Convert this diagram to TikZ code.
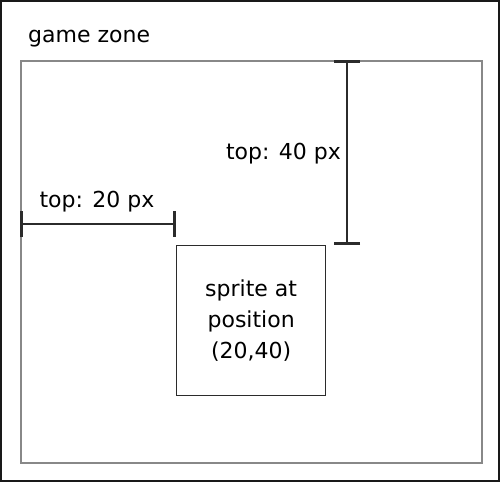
\documentclass[tikz,border=0pt]{standalone}
\usepackage{fontspec}
\setmainfont{DejaVu Sans}
\usetikzlibrary{arrows.meta,positioning}
\definecolor{zonegray}{HTML}{888888}
\definecolor{rulerdark}{HTML}{2B2B2B}

\begin{document}
\begin{tikzpicture}[x=1pt, y=-1pt,
        zone/.style={draw=zonegray, line width=1.6pt, minimum width=461pt, minimum height=402pt,
                     anchor=north west, inner sep=0pt},
        sprite/.style={draw=rulerdark, line width=1.3pt, minimum width=149pt, minimum height=150pt,
                       anchor=north west, align=center, inner sep=0pt,
                       font=\fontsize{22}{31}\selectfont},
        lbl/.style={inner sep=0pt, font=\fontsize{22}{26}\selectfont},
        ruler/.style={{Bar[width=26pt, line width=3pt]}-{Bar[width=26pt, line width=3pt]},
                      rulerdark, line width=1.6pt}]
        \useasboundingbox (0,0) rectangle (500,482);
        \draw[line width=2pt, black!90] (1,1) rectangle (499,481);
        \node[zone] (zone) at (20,60) {};
        \node[lbl, anchor=base west] (zonelbl) at (28,42) {game zone};
        \node[sprite] (s) at (176,245) {sprite at\\position\\(20,40)};
        % rulers
        \coordinate (hl) at (zone.west |- 0,224);
        \coordinate (hr) at (s.north west |- 0,224);
        \coordinate (vt) at (347,60);
        \coordinate (vb) at (347,245);
        \draw[ruler] (hl) -- (hr);
        \draw[ruler] (vt) -- (vb);
        \node[lbl, anchor=base] (hlbl) at (97,207) {top: 20 px};
        \node[lbl, anchor=base east] (vlbl) at (341,159) {top: 40 px};
      \end{tikzpicture}
\end{document}
